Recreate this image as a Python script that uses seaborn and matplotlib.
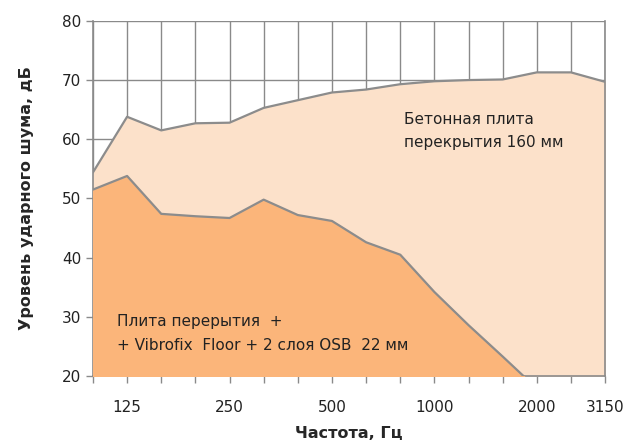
import numpy as np
import pandas as pd
import seaborn as sns
import matplotlib.pyplot as plt

sns.set_style("white")
plt.rcParams['font.family'] = ['DejaVu Sans']

freqs = [100, 125, 160, 200, 250, 315, 400, 500, 630, 800, 1000, 1250, 1600, 2000, 2500, 3150]
concrete = [54.4, 63.8, 61.5, 62.7, 62.8, 65.3, 66.6, 67.9, 68.4, 69.3, 69.8, 70.0, 70.1, 71.3, 71.3, 69.7]
vibrofix = [51.5, 53.8, 47.4, 47.0, 46.7, 49.8, 47.2, 46.2, 42.6, 40.5, 34.2, 28.6, 23.3, 17.9, 14.0, 11.0]
shown_labels = ["125", "250", "500", "1000", "2000", "3150"]

df = pd.DataFrame({"pos": np.arange(len(freqs)), "freq": freqs,
                   "concrete": concrete, "vibrofix": vibrofix})

fig = plt.figure(figsize=(6.41, 4.44), dpi=100)
ax = fig.add_axes([0.145, 0.153, 0.799, 0.800])

grid_c = "#8a8a8a"
ax.set_axisbelow(True)
ax.grid(True, color=grid_c, lw=1)

ax.fill_between(df["pos"], 0, df["concrete"], color="#fce1ca", zorder=2)
ax.fill_between(df["pos"], 0, df["vibrofix"], color="#fbb57a", zorder=3)
sns.lineplot(data=df, x="pos", y="concrete", ax=ax, color="#8c8c8c", lw=1.6, zorder=4)
sns.lineplot(data=df, x="pos", y="vibrofix", ax=ax, color="#8c8c8c", lw=1.6, zorder=4)

ax.set_xlim(0, len(freqs) - 1)
ax.set_ylim(20, 80)
ax.set_yticks(range(20, 81, 10))
ax.set_xticks(df["pos"])
ax.set_xticklabels([str(f) if str(f) in shown_labels else "" for f in freqs])
ax.tick_params(axis="both", bottom=True, left=True, direction="out", colors=grid_c,
               length=5, width=1, labelsize=11, labelcolor="#222222")
ax.tick_params(axis="x", pad=12)

for side in ["left", "bottom", "right"]:
    ax.spines[side].set_color(grid_c)
    ax.spines[side].set_linewidth(1.2)
ax.spines["top"].set_visible(False)

ax.set_xlabel("Частота, Гц", fontsize=11.5, fontweight="bold", labelpad=8)
ax.set_ylabel("Уровень ударного шума, дБ", fontsize=11.5, fontweight="bold", labelpad=20)

ax.text(9.1, 61.4, "Бетонная плита\nперекрытия 160 мм", fontsize=11,
        color="#222222", va="center", ha="left", linespacing=1.7, zorder=5)
ax.text(0.7, 27.2, "Плита перерытия  +\n+ Vibrofix  Floor + 2 слоя OSB  22 мм", fontsize=11,
        color="#222222", va="center", ha="left", linespacing=1.7, zorder=5)

fig.savefig("out.png", dpi=100)
